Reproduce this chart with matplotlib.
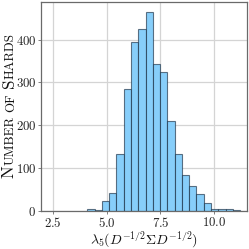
import numpy as np
import matplotlib as mpl
mpl.use("Agg")
import matplotlib.pyplot as plt
from matplotlib.transforms import IdentityTransform

mpl.rcParams.update(
    {
        "font.family": "serif",
        "font.serif": ["cmr10"],
        "mathtext.fontset": "cm",
        "axes.formatter.use_mathtext": True,
        "axes.unicode_minus": False,
    }
)

# histogram: 21 equal bins
bin_lo = 4.10
bin_hi = 11.21
counts = [4, 2, 23, 41, 132, 284, 395, 424, 465, 344, 325,
          211, 134, 83, 58, 39, 19, 5, 4, 5, 2]
edges = np.linspace(bin_lo, bin_hi, len(counts) + 1)
centers = (edges[:-1] + edges[1:]) / 2

x_ticks = [2.5, 5.0, 7.5, 10.0]
y_ticks = [0, 100, 200, 300, 400]
label_words = ["Number", "of", "Shards"]

SPINE = "#6a6a6a"
GRID = "#d4d4d4"


def smallcaps_ylabel(fig, words, x_px, y_center_px, size, target_len, ratio=0.76):
    renderer = fig.canvas.get_renderer()

    def build(sz_big):
        pieces = []
        for i, w in enumerate(words):
            if w[0].isupper():
                pieces.append((w[0], sz_big))
                pieces.append((w[1:].upper(), sz_big * ratio))
            else:
                pieces.append((w.upper(), sz_big * ratio))
            if i < len(words) - 1:
                pieces.append((None, sz_big * ratio))
        texts, lengths = [], []
        for txt, sz in pieces:
            if txt is None:
                texts.append(None)
                lengths.append(0.36 * sz * fig.dpi / 72)
                continue
            t = fig.text(0, 0, txt, fontsize=sz, rotation=90, rotation_mode="anchor",
                         ha="left", va="baseline", transform=IdentityTransform(),
                         color="#111111")
            lengths.append(t.get_window_extent(renderer).height)
            texts.append(t)
        return texts, lengths

    texts, lengths = build(size)
    scale = target_len / sum(lengths)
    for t in texts:
        if t is not None:
            t.remove()
    texts, lengths = build(size * scale)
    y = y_center_px - sum(lengths) / 2
    for t, L in zip(texts, lengths):
        if t is not None:
            t.set_position((x_px, y))
        y += L


def main():
    fig = plt.figure(figsize=(2.49, 2.49), dpi=100)
    ax = fig.add_axes([41 / 249, 1 - 211 / 249, 206 / 249, 209.3 / 249])

    ax.hist(centers, bins=edges, weights=counts, facecolor="#87CEFA",
            edgecolor=(0.05, 0.12, 0.2, 0.6), linewidth=0.8, zorder=2)

    ax.set_xlim(1.94, 11.53)
    ax.set_xticks(x_ticks)
    ax.set_yticks(y_ticks)
    ax.grid(True, color=GRID, lw=0.9, zorder=0)
    ax.set_axisbelow(True)
    for sp in ax.spines.values():
        sp.set_color(SPINE)
        sp.set_linewidth(0.9)
    ax.tick_params(length=2, width=0.6, color=SPINE, labelsize=9.2,
                   labelcolor="#222222", pad=1.5)

    xl = ax.set_xlabel(r"$\lambda_5(D^{-1/2}\Sigma D^{-1/2})$", fontsize=10,
                       color="#111111", labelpad=0)
    fig.canvas.draw()
    w = xl.get_window_extent(fig.canvas.get_renderer()).width
    xl.set_fontsize(10 * 108 / w)

    fig.canvas.draw()
    smallcaps_ylabel(fig, label_words, x_px=14.0, y_center_px=249 - 105.5,
                     size=10, target_len=145)

    fig.savefig("out.png", dpi=100)
    plt.close(fig)


if __name__ == "__main__":
    main()
